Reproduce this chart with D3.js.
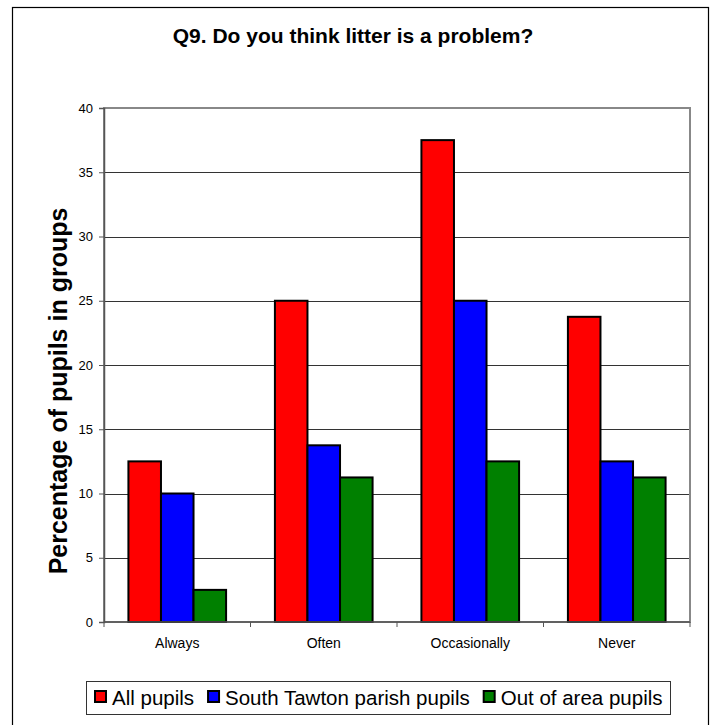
<!DOCTYPE html>
<html><head><meta charset="utf-8">
<script src="https://cdn.jsdelivr.net/npm/d3@7"></script>
<style>body{margin:0;background:#fff}svg{display:block;font-family:Arial,"Liberation Sans",sans-serif}</style>
</head><body><svg id="c" width="715" height="725"></svg>
<script>
const categories = ["Always", "Often", "Occasionally", "Never"];
const seriesNames = ["All pupils", "South Tawton parish pupils", "Out of area pupils"];
const allPupils = [12.5, 25, 37.5, 23.75];
const southTawton = [10, 13.75, 25, 12.5];
const outOfArea = [2.5, 11.25, 12.5, 11.25];
const yTicks = [0, 5, 10, 15, 20, 25, 30, 35, 40];
const colors = ["#FF0000", "#0000FF", "#008000"];
const seriesValues = [allPupils, southTawton, outOfArea];

const svg = d3.select("#c");
const L = 104, R = 690, T = 108, B = 622;

// outer border
svg.append("rect").attr("x", 12.5).attr("y", 7.5).attr("width", 696).attr("height", 730)
  .attr("fill", "#fff").attr("stroke", "#000").attr("stroke-width", 1.2);

svg.append("text").attr("x", 353).attr("y", 43).attr("text-anchor", "middle")
  .attr("font-weight", "bold").attr("font-size", 21).text("Q9. Do you think litter is a problem?");

const y = d3.scaleLinear().domain([0, 40]).range([B, T]);
const x0 = d3.scaleBand().domain(categories).range([L, R]).padding(0);
const x1 = d3.scaleBand().domain(seriesNames).range([0, x0.bandwidth()]).paddingInner(0).paddingOuter(0.75);

// gridlines
svg.append("g").selectAll("line").data(yTicks.filter(t => t > 0 && t < 40)).join("line")
  .attr("x1", L).attr("x2", R).attr("y1", d => Math.round(y(d)) + 0.5).attr("y2", d => Math.round(y(d)) + 0.5)
  .attr("stroke", "#333").attr("stroke-width", 1);

// plot area border
svg.append("rect").attr("x", L).attr("y", T).attr("width", R - L).attr("height", B - T)
  .attr("fill", "none").attr("stroke", "#888").attr("stroke-width", 2);

// bars
const groups = svg.append("g").selectAll("g").data(categories).join("g")
  .attr("transform", d => `translate(${x0(d)},0)`);
groups.selectAll("rect").data((c, i) => seriesNames.map((s, j) => ({s, v: seriesValues[j][i], j}))).join("rect")
  .attr("x", d => x1(d.s)).attr("width", x1.bandwidth())
  .attr("y", d => y(d.v)).attr("height", d => B - y(d.v))
  .attr("fill", d => colors[d.j]).attr("stroke", "#000").attr("stroke-width", 2);

// y axis
const yAxis = d3.axisLeft(y).tickValues(yTicks).tickSize(5).tickPadding(6);
const ya = svg.append("g").attr("transform", `translate(${L},0)`).call(yAxis);
ya.select(".domain").attr("stroke", "#555").attr("stroke-width", 1.5);
ya.selectAll(".tick line").attr("stroke", "#555");
ya.selectAll("text").attr("font-size", 13).attr("font-family", "Arial,'Liberation Sans',sans-serif").attr("fill", "#000");

// x axis
const xa = svg.append("g").attr("transform", `translate(0,${B})`);
xa.append("line").attr("x1", L).attr("x2", R).attr("stroke", "#555").attr("stroke-width", 1.5);
const bounds = categories.map(c => x0(c)).concat([R]);
xa.selectAll(".tk").data(bounds).join("line").attr("class", "tk")
  .attr("x1", d => d).attr("x2", d => d).attr("y1", 0).attr("y2", 5).attr("stroke", "#555");
xa.selectAll("text").data(categories).join("text")
  .attr("x", d => x0(d) + x0.bandwidth() / 2).attr("y", 26).attr("text-anchor", "middle")
  .attr("font-size", 14).text(d => d);

// y title
svg.append("text").attr("transform", `translate(67,391) rotate(-90)`)
  .attr("text-anchor", "middle").attr("font-weight", "bold").attr("font-size", 25)
  .text("Percentage of pupils in groups");

// legend
const lg = svg.append("g");
lg.append("rect").attr("x", 86.5).attr("y", 681.5).attr("width", 584).attr("height", 33)
  .attr("fill", "#fff").attr("stroke", "#333").attr("stroke-width", 1);
let cx = 95;
seriesNames.forEach((s, j) => {
  lg.append("rect").attr("x", cx).attr("y", 691).attr("width", 11).attr("height", 11)
    .attr("fill", colors[j]).attr("stroke", "#000").attr("stroke-width", 2);
  const t = lg.append("text").attr("x", cx + 17).attr("y", 705).attr("font-size", 20.5).text(s);
  cx += 17 + t.node().getComputedTextLength() + 14;
});
</script></body></html>
